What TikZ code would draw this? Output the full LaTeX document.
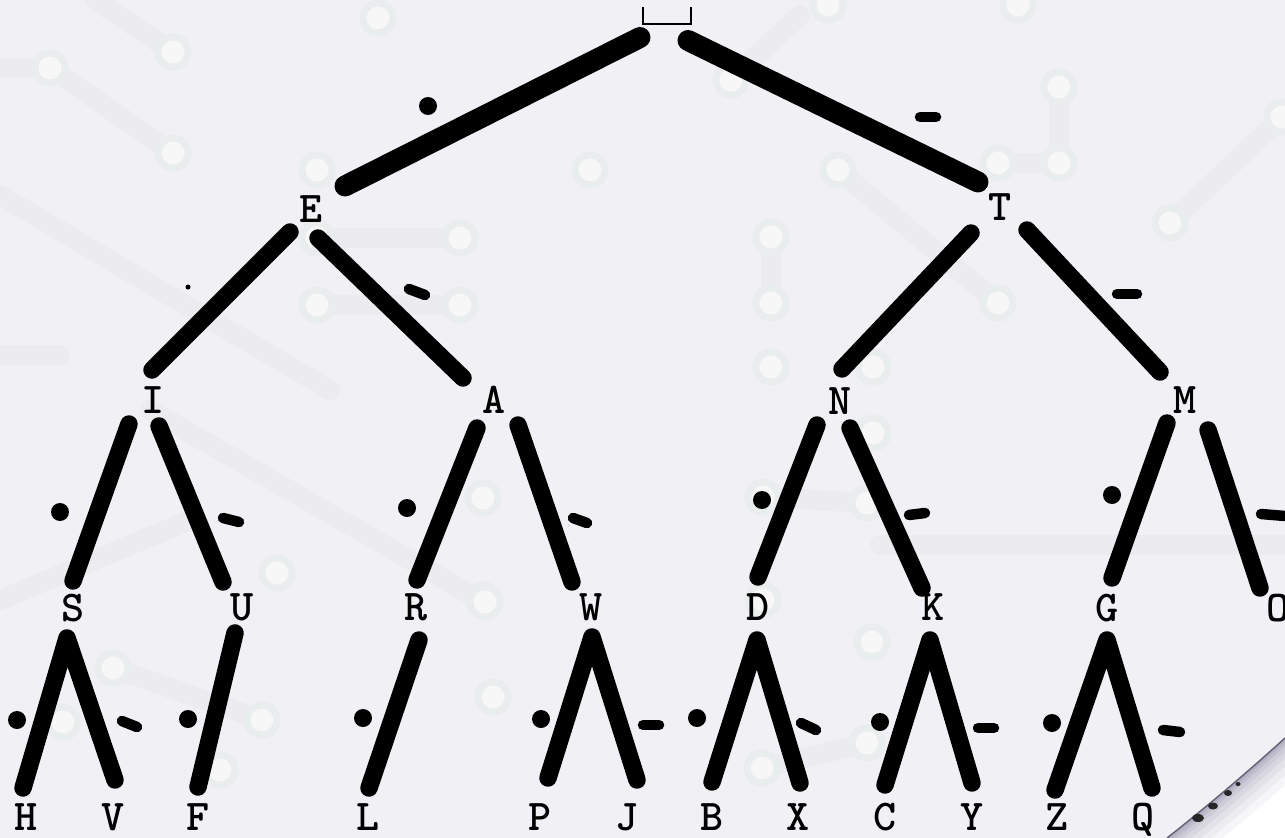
\documentclass[tikz,border=0pt]{standalone}
\usepackage{fontspec}
\usetikzlibrary{calc}
\definecolor{bg}{RGB}{241,240,244}
\definecolor{padring}{RGB}{234,237,238}
\definecolor{padcore}{RGB}{246,247,246}
\definecolor{trace}{RGB}{236,235,240}
\definecolor{curlshade}{RGB}{140,138,165}
\begin{document}
\begin{tikzpicture}[x=0.02cm,y=-0.02cm,
  letter/.style={font=\ttfamily\bfseries\fontsize{25}{25}\selectfont, inner sep=0pt, text height=15.3pt, text depth=0pt},
  edge/.style={line width=0.35cm, line cap=round, line join=round},
  topedge/.style={edge, line width=0.42cm},
  dashmark/.style={line width=0.21cm, line cap=round},
  pad/.style={draw=padring, fill=padcore, line width=0.14cm},
  tr/.style={draw=trace, line width=0.4cm, line cap=round}]
% background
\fill[bg] (0,0) rectangle (1285,838);
\useasboundingbox (0,0) rectangle (1285,838);
% faint circuit pattern
\draw[tr] (0,68) -- (50,68) -- (173,153);
\draw[tr] (95,0) -- (173,52);
\draw[tr] (0,195) -- (160,290) -- (330,390);
\draw[tr] (731,80) -- (800,15);
\draw[tr] (1059,87) -- (1059,163) -- (998,163);
\draw[tr] (1170,223) -- (1282,117);
\draw[tr] (838,170) -- (998,303);
\draw[tr] (771,237) -- (771,303);
\draw[tr] (317,238) -- (460,238);
\draw[tr] (317,305) -- (460,305);
\draw[tr] (150,410) -- (480,600);
\draw[tr] (0,600) -- (190,520);
\draw[tr] (113,668) -- (262,720);
\draw[tr] (762,768) -- (867,743);
\draw[tr] (763,497) -- (867,503);
\draw[tr] (0,355) -- (60,355);
\draw[tr] (880,545) -- (1285,545);
\foreach \p in {(50,68),(173,52),(173,153),(317,170),(378,18),(731,80),(828,5),(1018,5),
  (1059,87),(998,163),(1059,163),(838,170),(1170,223),(1282,117),(771,237),(771,303),
  (998,303),(771,367),(873,367),(483,498),(277,573),(483,600),(485,602),(493,697),
  (763,600),(872,642),(762,768),(867,743),(873,433),(763,497),(867,503),(113,668),
  (262,720),(63,722),(220,770),(460,238),(460,305),(317,305),(317,238),(590,170)}
  \draw[pad] \p circle (15);
% nodes
\node[inner sep=0pt, minimum width=0.96cm, minimum height=0.34cm] (root) at (667,15.5) {};
\draw[line width=1.2pt] (root.north west) -- (root.south west) -- (root.south east) -- (root.north east);
\node[letter] (E) at (311,209) {E};
\node[letter] (T) at (1000,207) {T};
\node[letter] (I) at (153,400) {I};
\node[letter] (A) at (494,400) {A};
\node[letter] (N) at (840,401) {N};
\node[letter] (M) at (1185,400) {M};
\node[letter] (S) at (73,608) {S};
\node[letter] (U) at (242,607) {U};
\node[letter] (R) at (416,607) {R};
\node[letter] (W) at (591,607) {W};
\node[letter] (D) at (758,607) {D};
\node[letter] (K) at (933,607) {K};
\node[letter] (G) at (1107,608) {G};
\node[letter] (O) at (1278,608) {O};
\node[letter] (H) at (26,817) {H};
\node[letter] (V) at (113,817) {V};
\node[letter] (F) at (198,817) {F};
\node[letter] (L) at (368,817) {L};
\node[letter] (P) at (540,817) {P};
\node[letter] (J) at (627,817) {J};
\node[letter] (B) at (712,817) {B};
\node[letter] (X) at (798,817) {X};
\node[letter] (C) at (885,817) {C};
\node[letter] (Y) at (972,817) {Y};
\node[letter] (Z) at (1057,817) {Z};
\node[letter] (Q) at (1143,817) {Q};
% edges
\draw[topedge] ($(root)+(-27,22)$) -- ($(E)+(34,-23)$);
\draw[topedge] ($(root)+(21,25)$) -- ($(T)+(-22,-25)$);
\draw[edge] ($(E)+(-21,23)$) -- ($(I)+(-1,-30)$);
\draw[edge] ($(E)+(7,29)$) -- ($(A)+(-31,-22)$);
\draw[edge] ($(T)+(-29,26)$) -- ($(N)+(2,-32)$);
\draw[edge] ($(T)+(27,23)$) -- ($(M)+(-25,-28)$);
\draw[edge] ($(I)+(-24,24)$) -- ($(S)+(0,-27)$);
\draw[edge] ($(I)+(6,26)$) -- ($(U)+(-19,-25)$);
\draw[edge] ($(A)+(-17,28)$) -- ($(R)+(1,-27)$);
\draw[edge] ($(A)+(24,25)$) -- ($(W)+(-19,-25)$);
\draw[edge] ($(N)+(-23,24)$) -- ($(D)+(0,-30)$);
\draw[edge] ($(N)+(10,27)$) -- ($(K)+(-11,-19)$);
\draw[edge] ($(M)+(-18,23)$) -- ($(G)+(5,-30)$);
\draw[edge] ($(M)+(23,30)$) -- ($(O)+(-18,-20)$);
\draw[edge] ($(H)+(-3,-29)$) -- ($(S)+(-6,30)$) -- ($(V)+(2,-37)$);
\draw[edge] ($(U)+(-7,26)$) -- ($(F)+(0,-30)$);
\draw[edge] ($(R)+(3,33)$) -- ($(L)+(1,-29)$);
\draw[edge] ($(P)+(8,-39)$) -- ($(W)+(1,30)$) -- ($(J)+(10,-37)$);
\draw[edge] ($(B)+(0,-35)$) -- ($(D)+(-1,33)$) -- ($(X)+(2,-34)$);
\draw[edge] ($(C)+(0,-32)$) -- ($(K)+(-3,33)$) -- ($(Y)+(0,-34)$);
\draw[edge] ($(Z)+(-2,-27)$) -- ($(G)+(0,32)$) -- ($(Q)+(9,-29)$);
% morse dots
\foreach \p in {(428,106),(60,512),(407,508),(762,500),(1112,495),(17,720),(188,719),
  (363,718),(541,719),(697,718),(880,722),(1052,723)}
  \fill \p circle (9);
\fill (188,287) circle (2.5);
% morse dashes
\draw[dashmark] (920,117) -- (936,117);
\draw[dashmark] (409,289) -- (425,295);
\draw[dashmark] (1117,294) -- (1137,294);
\draw[dashmark] (223,518) -- (239,522);
\draw[dashmark] (573,518) -- (587,523);
\draw[dashmark] (909,515) -- (925,513);
\draw[dashmark] (1261,514) -- (1285,516);
\draw[dashmark] (122,721) -- (137,727);
\draw[dashmark] (643,725) -- (659,725);
\draw[dashmark] (801,723) -- (816,730);
\draw[dashmark] (978,728) -- (994,728);
\draw[dashmark] (1163,730) -- (1180,732);
% page curl
\begin{scope}
\path[clip] (1167,838) .. controls (1215,800) and (1252,768) .. (1285,738) -- (1285,838) -- cycle;
\fill[white] (1150,720) rectangle (1285,838);
\foreach \w/\o in {70/0.07,55/0.08,42/0.1,30/0.12,20/0.15,12/0.2,6/0.25}
  \draw[curlshade, opacity=\o, line width=\w*0.02cm] (1167,838) .. controls (1215,800) and (1252,768) .. (1285,738);
\end{scope}
\draw[curlshade!70!black, line width=0.8pt] (1167,838) .. controls (1215,800) and (1252,768) .. (1285,738);
\fill[black!85] (1198,818) ellipse (6 and 4);
\fill[black!85] (1213,806) ellipse (5 and 3.5);
\fill[black!85] (1228,793) ellipse (4 and 3);
\fill[black!85] (1238,784) ellipse (2.5 and 2);
\end{tikzpicture}
\end{document}
